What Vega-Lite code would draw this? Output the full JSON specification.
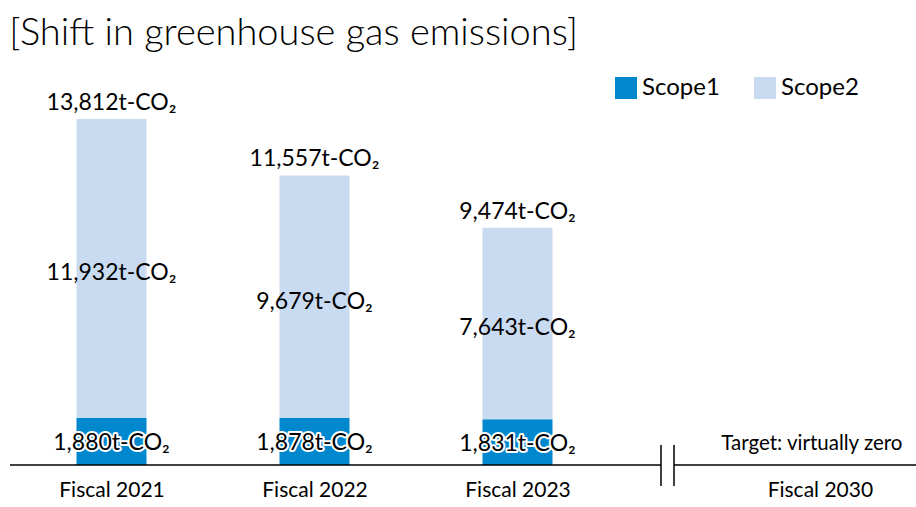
{
  "$schema": "https://vega.github.io/schema/vega-lite/v6.json",
  "width": 906,
  "height": 395,
  "autosize": "none",
  "padding": {"left": 10, "top": 70, "right": 0, "bottom": 42},
  "background": "white",
  "config": {"font": "Lato", "view": {"stroke": null}},
  "title": {"text": "[Shift in greenhouse gas emissions]", "anchor": "start", "fontSize": 38, "fontWeight": 300, "font": "Lato", "color": "#000000", "offset": 17, "dx": 0},
  "datasets": {
    "emissions": [
      {"fiscal": 2021, "scope": "Scope1", "value": 1880},
      {"fiscal": 2021, "scope": "Scope2", "value": 11932},
      {"fiscal": 2022, "scope": "Scope1", "value": 1878},
      {"fiscal": 2022, "scope": "Scope2", "value": 9679},
      {"fiscal": 2023, "scope": "Scope1", "value": 1831},
      {"fiscal": 2023, "scope": "Scope2", "value": 7643}
    ],
    "target": [{"fiscal": 2030, "note": "Target: virtually zero"}],
    "axisbreak": [{"from": 2020.5, "to": 2026}, {"from": 2027, "to": 2030.474}]
  },
  "layer": [
    {
      "data": {"name": "emissions"},
      "mark": {"type": "bar", "width": 70},
      "encoding": {
        "x": {
          "field": "fiscal",
          "type": "quantitative",
          "scale": {"domain": [2020.5, 2023.5, 2026, 2027, 2029.5, 2030.474], "range": [0, 609, 651, 664, 708.5, 906], "zero": false, "nice": false, "padding": 0},
          "axis": {"values": [2021, 2022, 2023, 2030], "labelExpr": "'Fiscal ' + datum.value", "ticks": false, "grid": false, "domain": false, "title": null, "labelFontSize": 21, "labelFont": "Lato", "labelColor": "#000000", "labelPadding": 14}
        },
        "y": {"field": "value", "type": "quantitative", "stack": "zero", "scale": {"domain": [0, 15768], "nice": false, "zero": true}, "axis": null},
        "order": {"field": "scope", "sort": "ascending"},
        "color": {
          "field": "scope",
          "type": "nominal",
          "scale": {"domain": ["Scope1", "Scope2"], "range": ["#0088cf", "#c9dbf1"]},
          "legend": {"orient": "none", "legendX": 604, "legendY": 6, "direction": "horizontal", "title": null, "symbolType": "square", "symbolSize": 484, "symbolStrokeWidth": 0, "labelFontSize": 24, "labelFont": "Lato", "labelColor": "#000000", "columnPadding": 33, "labelOffset": 4, "padding": 0}
        }
      }
    },
    {
      "data": {"name": "emissions"},
      "transform": [
        {"stack": "value", "groupby": ["fiscal"], "sort": [{"field": "scope"}], "as": ["v0", "v1"]},
        {"calculate": "(datum.v0 + datum.v1) / 2", "as": "mid"},
        {"calculate": "format(datum.value, ',') + 't-CO₂'", "as": "label"}
      ],
      "layer": [
        {
          "transform": [{"filter": "datum.scope === 'Scope2'"}],
          "mark": {"type": "text", "fontSize": 23, "font": "Lato", "color": "#000000", "baseline": "middle", "dy": 5},
          "encoding": {"x": {"field": "fiscal", "type": "quantitative"}, "y": {"field": "mid", "type": "quantitative"}, "text": {"field": "label"}}
        },
        {
          "transform": [{"filter": "datum.scope === 'Scope1'"}],
          "mark": {"type": "text", "fontSize": 23, "font": "Lato", "color": "#000000", "stroke": "#ffffff", "strokeWidth": 4, "strokeJoin": "round", "baseline": "middle", "dy": 1.5},
          "encoding": {"x": {"field": "fiscal", "type": "quantitative"}, "y": {"field": "mid", "type": "quantitative"}, "text": {"field": "label"}}
        },
        {
          "transform": [{"filter": "datum.scope === 'Scope1'"}],
          "mark": {"type": "text", "fontSize": 23, "font": "Lato", "color": "#000000", "baseline": "middle", "dy": 1.5},
          "encoding": {"x": {"field": "fiscal", "type": "quantitative"}, "y": {"field": "mid", "type": "quantitative"}, "text": {"field": "label"}}
        }
      ]
    },
    {
      "data": {"name": "emissions"},
      "transform": [
        {"aggregate": [{"op": "sum", "field": "value", "as": "total"}], "groupby": ["fiscal"]},
        {"calculate": "format(datum.total, ',') + 't-CO₂'", "as": "label"}
      ],
      "mark": {"type": "text", "fontSize": 23, "font": "Lato", "color": "#000000", "baseline": "middle", "dy": -16},
      "encoding": {"x": {"field": "fiscal", "type": "quantitative"}, "y": {"field": "total", "type": "quantitative"}, "text": {"field": "label"}}
    },
    {
      "data": {"name": "axisbreak"},
      "mark": {"type": "rule", "color": "#000000", "strokeWidth": 1.5},
      "encoding": {"x": {"field": "from", "type": "quantitative"}, "x2": {"field": "to"}, "y": {"datum": 0}}
    },
    {
      "data": {"name": "axisbreak"},
      "transform": [{"filter": "datum.to > 2029"}],
      "mark": {"type": "rule", "color": "#000000", "strokeWidth": 1.5},
      "encoding": {"x": {"field": "from", "type": "quantitative"}, "y": {"datum": -840}, "y2": {"datum": 800}}
    },
    {
      "data": {"name": "axisbreak"},
      "transform": [{"filter": "datum.from < 2021"}],
      "mark": {"type": "rule", "color": "#000000", "strokeWidth": 1.5},
      "encoding": {"x": {"field": "to", "type": "quantitative"}, "y": {"datum": -840}, "y2": {"datum": 800}}
    },
    {
      "data": {"name": "target"},
      "mark": {"type": "text", "fontSize": 20.5, "font": "Lato", "color": "#000000", "baseline": "middle", "dy": -21, "dx": -8},
      "encoding": {"x": {"field": "fiscal", "type": "quantitative"}, "y": {"datum": 0}, "text": {"field": "note"}}
    }
  ]
}
